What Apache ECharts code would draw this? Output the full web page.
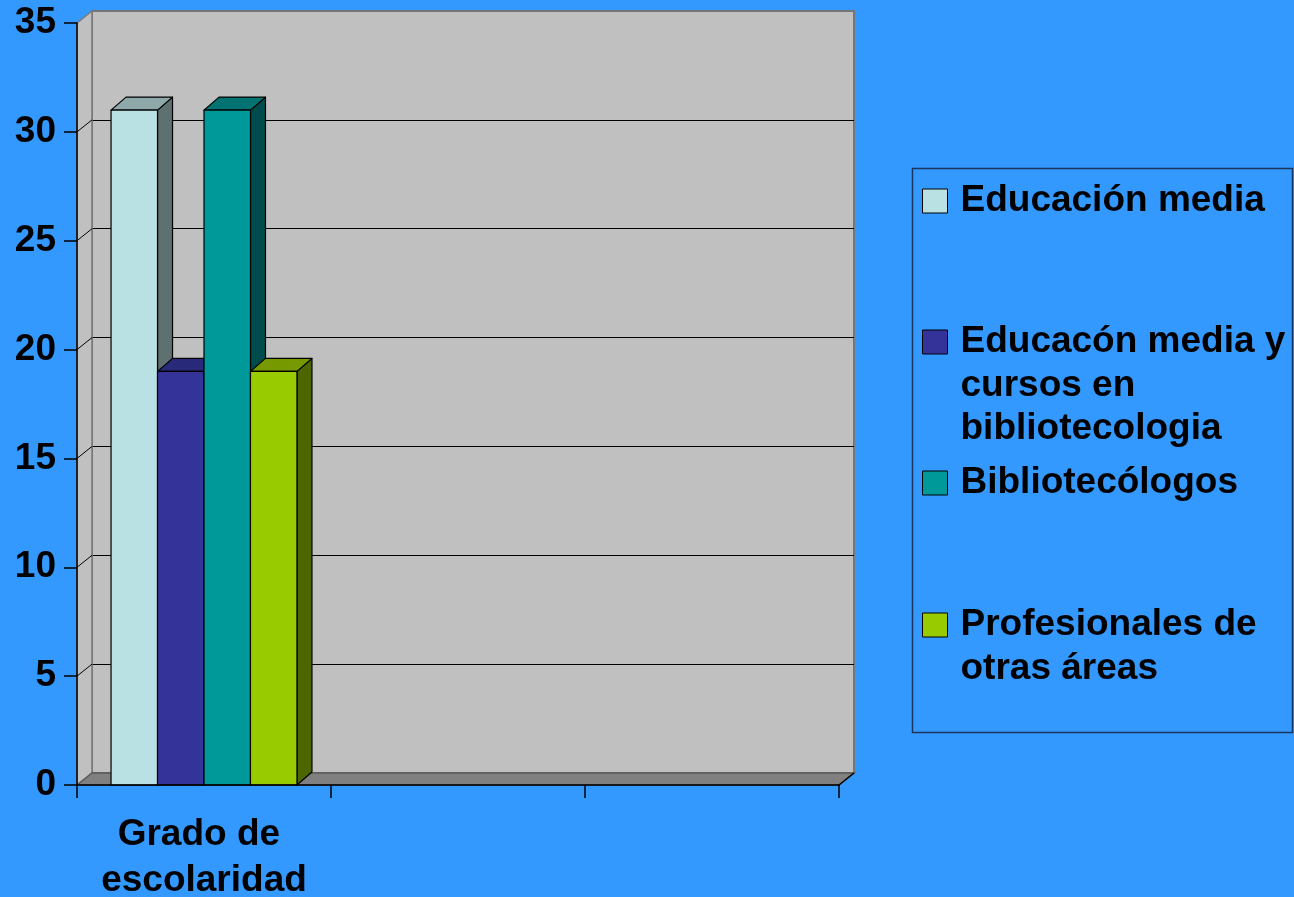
<!DOCTYPE html>
<html><head><meta charset="utf-8">
<script src="https://cdn.jsdelivr.net/npm/echarts@6/dist/echarts.min.js"></script>
<style>html,body{margin:0;padding:0;background:#3399FF;} #c{width:1294px;height:897px;}</style>
</head><body><div id="c"></div>
<script>
// ---- data ----
const categories = ['Grado de escolaridad', '', ''];
const seriesNames = ['Educación media', 'Educacón media y cursos en bibliotecologia', 'Bibliotecólogos', 'Profesionales de otras áreas'];
const legendLines = [['Educación media'], ['Educacón media y', 'cursos en', 'bibliotecologia'], ['Bibliotecólogos'], ['Profesionales de', 'otras áreas']];
const educacionMedia = [31];
const educacionMediaCursos = [19];
const bibliotecologos = [31];
const profesionalesOtras = [19];
const yTicks = [0, 5, 10, 15, 20, 25, 30, 35];

// ---- styles ----
const FONT = '"Liberation Sans", Arial, sans-serif';
const FS = 37;
const faces = [
  {front: '#B9E0E3', top: '#8FA8A9', side: '#5E7070'},
  {front: '#333399', top: '#29297A', side: '#1F1F5C'},
  {front: '#009999', top: '#007272', side: '#004C4C'},
  {front: '#99CC00', top: '#779900', side: '#4D6600'}
];
const WX = 15, WY = 12;   // wall depth
const BX = 15, BY = 13;   // bar depth
const CAT_GAP = 0.268;
const LH = 43.5;
const iconCenters = [199, 340, 481, 623];

const allValues = [educacionMedia, educacionMediaCursos, bibliotecologos, profesionalesOtras];

function renderBar(i) {
  return function (params, api) {
    const cat = api.value(0), val = api.value(1);
    if (isNaN(val)) return null;
    const band = api.size([1, 0])[0];
    const bw = band * (1 - CAT_GAP) / 4;
    const c = api.coord([cat, val]);
    const b = api.coord([cat, 0]);
    const x0 = c[0] - 2 * bw + i * bw, x1 = x0 + bw;
    const yt = c[1], yb = b[1];
    const f = faces[i];
    const st = {stroke: '#000', lineWidth: 1.2, lineJoin: 'round'};
    return {type: 'group', children: [
      {type: 'polygon', shape: {points: [[x1, yb], [x1 + BX, yb - BY], [x1 + BX, yt - BY], [x1, yt]]}, style: Object.assign({fill: f.side}, st)},
      {type: 'polygon', shape: {points: [[x0, yt], [x0 + BX, yt - BY], [x1 + BX, yt - BY], [x1, yt]]}, style: Object.assign({fill: f.top}, st)},
      {type: 'rect', shape: {x: x0, y: yt, width: bw, height: yb - yt}, style: Object.assign({fill: f.front}, st)}
    ]};
  };
}

function renderFrame(params, api) {
  const cs = params.coordSys;
  const x0 = cs.x, x1 = cs.x + cs.width, yT = cs.y, yB = cs.y + cs.height;
  const ch = [];
  ch.push({type: 'polygon', shape: {points: [[x0, yB], [x0, yT], [x0 + WX, yT - WY], [x0 + WX, yB - WY]]},
    style: {fill: '#C0C0C0', stroke: '#7A7A7A', lineWidth: 1.5}});
  yTicks.forEach(function (v) {
    if (v === 0 || v === 35) return;
    const y = api.coord([0, v])[1];
    ch.push({type: 'line', shape: {x1: x0, y1: y, x2: x0 + WX, y2: y - WY}, style: {stroke: '#000', lineWidth: 1}});
  });
  ch.push({type: 'polygon', shape: {points: [[x0, yB], [x0 + WX, yB - WY], [x1 + WX, yB - WY], [x1, yB]]},
    style: {fill: '#808080', stroke: '#5A5A5A', lineWidth: 1.5}});
  ch.push({type: 'line', shape: {x1: x1, y1: yB, x2: x1 + WX, y2: yB - WY}, style: {stroke: '#000', lineWidth: 1.5}});
  return {type: 'group', children: ch};
}

const series = [{
  type: 'custom', name: '__frame', xAxisIndex: 0, yAxisIndex: 0, z: 1, silent: true,
  data: [[0, 0]], renderItem: renderFrame, encode: {x: 0, y: 1}
}];
allValues.forEach(function (vals, i) {
  series.push({
    type: 'custom', name: seriesNames[i], xAxisIndex: 0, yAxisIndex: 0, z: 2 + i * 0.01,
    itemStyle: {color: faces[i].front},
    data: vals.map(function (v, k) { return [k, v]; }),
    encode: {x: 0, y: 1},
    renderItem: renderBar(i)
  });
});

const option = {
  backgroundColor: '#3399FF',
  animation: false,
  grid: [
    {left: 77, top: 23, width: 762, height: 762, containLabel: false, outerBoundsMode: 'none'},
    {left: 77 + WX, top: 23 - WY, width: 762, height: 762, containLabel: false, outerBoundsMode: 'none',
      show: true, backgroundColor: '#C0C0C0', borderColor: '#767676', borderWidth: 2}
  ],
  xAxis: [
    {gridIndex: 0, type: 'category', data: categories, boundaryGap: true, z: 5,
      axisLine: {show: true, lineStyle: {color: '#000', width: 1.5}},
      axisTick: {show: true, length: 13, interval: 0, lineStyle: {color: '#000', width: 1.5}},
      axisLabel: {interval: 0, margin: 27, width: 260, overflow: 'break', lineHeight: 46,
        fontSize: FS, fontWeight: 'bold', fontFamily: FONT, color: '#000'}},
    {gridIndex: 1, type: 'category', data: categories, show: false}
  ],
  yAxis: [
    {gridIndex: 0, type: 'value', min: 0, max: 35, interval: 5, z: 5,
      axisLine: {show: true, lineStyle: {color: '#000', width: 1.5}},
      axisTick: {show: true, length: 13, lineStyle: {color: '#000', width: 1.5}},
      splitLine: {show: false},
      axisLabel: {margin: 21, fontSize: FS, fontWeight: 'bold', fontFamily: FONT, color: '#000', padding: [5, 0, 0, 0]}},
    {gridIndex: 1, type: 'value', min: 0, max: 35, interval: 5,
      axisLine: {show: false}, axisTick: {show: false}, axisLabel: {show: false},
      splitLine: {show: true, showMinLine: false, showMaxLine: false, lineStyle: {color: '#000', width: 1}}}
  ],
  legend: seriesNames.map(function (n, i) {
    const lines = legendLines[i];
    const pre = lines.length - 1;
    const text = new Array(pre + 1).join('\n') + lines.join('\n');
    const total = (pre + lines.length) * LH;
    return {
      data: [n], left: 922, top: iconCenters[i] - total / 2 + 2, orient: 'vertical', padding: 0,
      itemWidth: 25, itemHeight: 24, icon: 'rect', selectedMode: false,
      itemStyle: {borderColor: '#000', borderWidth: 1},
      formatter: function () { return text; },
      textStyle: {fontSize: FS, fontWeight: 'bold', fontFamily: FONT, color: '#000',
        lineHeight: LH, padding: [0, 0, 0, 8]}
    };
  }),
  graphic: [{
    type: 'rect', z: -1, silent: true,
    shape: {x: 912.5, y: 168.5, width: 380, height: 564},
    style: {fill: 'none', stroke: '#1C355E', lineWidth: 1.5}
  }],
  series: series
};

const chart = echarts.init(document.getElementById('c'), null, {renderer: 'canvas'});
chart.setOption(option);
</script>
</body></html>
